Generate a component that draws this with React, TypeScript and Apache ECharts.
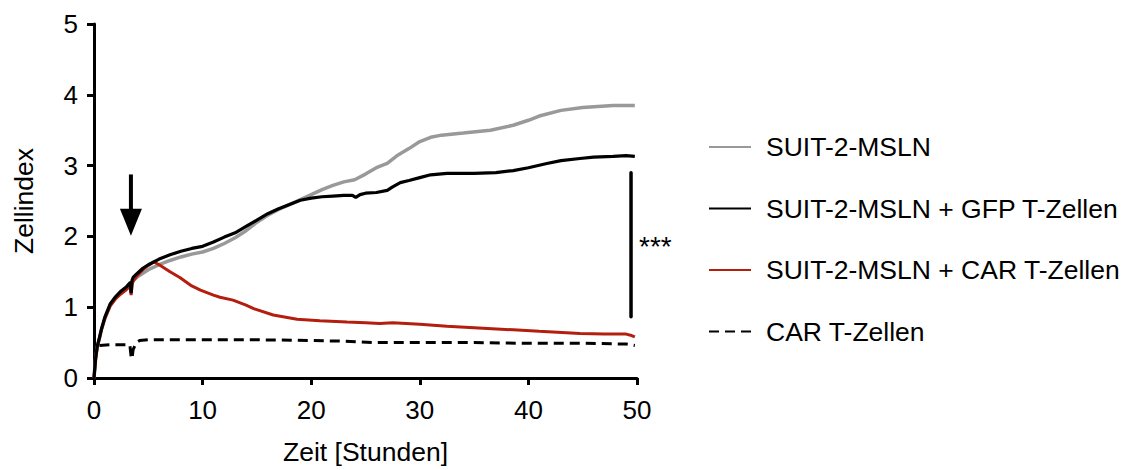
import React, { useEffect, useRef } from "react";
import * as echarts from "echarts";

const FONT = "'Liberation Sans', Arial, sans-serif";

const xTicks = [0, 10, 20, 30, 40, 50];
const yTicks = [0, 1, 2, 3, 4, 5];

const seriesNames = [
  "SUIT-2-MSLN",
  "SUIT-2-MSLN + GFP T-Zellen",
  "SUIT-2-MSLN + CAR T-Zellen",
  "CAR T-Zellen",
];

// SUIT-2-MSLN (grey)
const greyT = [0, 0.15, 0.3, 0.5, 0.7, 1, 1.5, 2, 2.5, 3, 3.35, 3.42, 3.5, 3.6, 4, 5, 6, 7, 8, 9, 10, 11, 12, 13, 14, 15, 16, 17, 18, 19, 20, 21, 22, 23, 24, 25, 26, 27, 28, 29, 30, 31, 32, 34, 36.5, 38.6, 40, 41, 43, 45, 47.8, 49.8];
const greyV = [0, 0.27, 0.44, 0.56, 0.69, 0.84, 1.03, 1.13, 1.21, 1.27, 1.32, 1.2, 1.33, 1.37, 1.43, 1.53, 1.6, 1.66, 1.71, 1.75, 1.78, 1.83, 1.9, 1.98, 2.08, 2.2, 2.3, 2.38, 2.45, 2.52, 2.59, 2.66, 2.72, 2.77, 2.8, 2.88, 2.97, 3.03, 3.15, 3.24, 3.34, 3.4, 3.43, 3.46, 3.5, 3.57, 3.64, 3.7, 3.78, 3.82, 3.85, 3.85];

// SUIT-2-MSLN + GFP T-Zellen (black)
const gfpT = [0, 0.15, 0.3, 0.5, 0.7, 1, 1.5, 2, 2.5, 3, 3.35, 3.42, 3.5, 3.6, 4, 4.5, 5, 6, 7, 8, 9, 10, 11, 12, 13, 14, 15, 16, 17, 18, 19, 20, 21, 22, 23, 23.8, 24.1, 24.5, 25, 26, 27, 27.5, 28.2, 29, 30, 31, 32.5, 35, 37, 38.6, 40, 41.7, 43, 44.75, 46, 47.8, 49, 49.8];
const gfpV = [0, 0.28, 0.45, 0.57, 0.7, 0.86, 1.05, 1.15, 1.23, 1.29, 1.35, 1.2, 1.38, 1.42, 1.48, 1.55, 1.6, 1.68, 1.74, 1.79, 1.83, 1.86, 1.92, 1.99, 2.05, 2.14, 2.23, 2.32, 2.39, 2.45, 2.51, 2.54, 2.56, 2.57, 2.58, 2.58, 2.55, 2.59, 2.61, 2.62, 2.65, 2.7, 2.76, 2.79, 2.83, 2.87, 2.89, 2.89, 2.9, 2.93, 2.97, 3.03, 3.07, 3.1, 3.12, 3.13, 3.14, 3.13];

// SUIT-2-MSLN + CAR T-Zellen (red)
const carT = [0, 0.15, 0.3, 0.5, 0.7, 1, 1.5, 2, 2.5, 3, 3.35, 3.42, 3.5, 3.6, 4, 4.5, 5, 5.5, 6, 7, 7.9, 9, 9.8, 11, 11.6, 12.8, 14, 14.7, 16.5, 18.7, 20.8, 23.3, 25, 26.3, 27.5, 30, 32.5, 35, 38.6, 41, 44.75, 47, 49, 49.5, 49.8];
const carV = [0, 0.27, 0.44, 0.56, 0.69, 0.84, 1.02, 1.12, 1.19, 1.25, 1.3, 1.17, 1.33, 1.37, 1.45, 1.53, 1.59, 1.64, 1.6, 1.5, 1.42, 1.3, 1.24, 1.17, 1.14, 1.1, 1.03, 0.98, 0.89, 0.83, 0.81, 0.79, 0.78, 0.77, 0.78, 0.76, 0.73, 0.71, 0.68, 0.66, 0.63, 0.62, 0.62, 0.6, 0.58];

// CAR T-Zellen only (dashed)
const tcellT = [0.5, 1.5, 2.5, 3.3, 3.42, 3.5, 3.6, 3.9, 4.2, 5, 8, 12, 15, 20, 23, 26, 30, 35, 40, 45, 49, 49.8];
const tcellV = [0.46, 0.47, 0.47, 0.47, 0.3, 0.27, 0.4, 0.5, 0.53, 0.54, 0.54, 0.54, 0.54, 0.53, 0.52, 0.5, 0.5, 0.5, 0.49, 0.49, 0.48, 0.46];

// annotations (data coordinates)
const arrowX = 3.4;
const arrowTop = 2.875;
const arrowHeadBase = 2.39;
const arrowTip = 2.01;
const sigX = 49.45;
const sigTop = 2.9;
const sigBottom = 0.865;
const sigLabel = "***";

const zip = (t: number[], v: number[]) => t.map((x, i) => [x, v[i]]);

export default function App() {
  const ref = useRef<HTMLDivElement>(null);

  useEffect(() => {
    document.body.style.margin = "0";
    if (!ref.current) return;
    const chart = echarts.init(ref.current, null, { renderer: "svg" });

    const axisCommon = {
      axisLine: { show: true, lineStyle: { color: "#000", width: 3 } },
      axisTick: { show: true, inside: false, length: 7, lineStyle: { color: "#000", width: 3 } },
      splitLine: { show: false },
      nameTextStyle: { color: "#000", fontSize: 26.5, fontFamily: FONT },
    };

    chart.setOption({
      animation: false,
      backgroundColor: "#fff",
      textStyle: { fontFamily: FONT },
      grid: { left: 94, right: 489, top: 24, bottom: 86, containLabel: false },
      xAxis: {
        type: "value",
        min: xTicks[0],
        max: xTicks[xTicks.length - 1],
        interval: 10,
        name: "Zeit [Stunden]",
        nameLocation: "middle",
        nameGap: 60,
        ...axisCommon,
        axisLabel: { color: "#000", fontSize: 26, fontFamily: FONT, margin: 19 },
      },
      yAxis: {
        type: "value",
        min: yTicks[0],
        max: yTicks[yTicks.length - 1],
        interval: 1,
        name: "Zellindex",
        nameLocation: "middle",
        nameRotate: 90,
        nameGap: 57,
        ...axisCommon,
        axisLabel: { color: "#000", fontSize: 26, fontFamily: FONT, margin: 16 },
      },
      legend: {
        orient: "vertical",
        left: 703,
        top: 127,
        itemWidth: 42,
        itemHeight: 14,
        itemGap: 31.5,
        data: seriesNames,
        itemStyle: { opacity: 0 },
        textStyle: { color: "#000", fontSize: 26.5, fontFamily: FONT, lineHeight: 30, padding: [0, 0, 0, 10] },
      },
      series: [
        {
          name: seriesNames[0],
          type: "line",
          symbol: "none",
          data: zip(greyT, greyV),
          lineStyle: { color: "#999999", width: 3.5 },
          itemStyle: { color: "#999999" },
          z: 2,
        },
        {
          name: seriesNames[2],
          type: "line",
          symbol: "none",
          data: zip(carT, carV),
          lineStyle: { color: "#b31e0f", width: 3 },
          itemStyle: { color: "#b31e0f" },
          z: 3,
        },
        {
          name: seriesNames[1],
          type: "line",
          symbol: "none",
          data: zip(gfpT, gfpV),
          lineStyle: { color: "#000000", width: 3.2 },
          itemStyle: { color: "#000000" },
          z: 4,
        },
        {
          name: seriesNames[3],
          type: "line",
          symbol: "none",
          data: zip(tcellT, tcellV),
          lineStyle: { color: "#000000", width: 3, type: [10, 6] },
          itemStyle: { color: "#000000" },
          z: 5,
        },
      ],
    });

    const px = (x: number, y: number) => chart.convertToPixel({ gridIndex: 0 }, [x, y]) as number[];
    const aTop = px(arrowX, arrowTop);
    const aBase = px(arrowX, arrowHeadBase);
    const aTip = px(arrowX, arrowTip);
    const sTop = px(sigX, sigTop);
    const sBot = px(sigX, sigBottom);
    const sMid = px(sigX, (sigTop + sigBottom) / 2);

    chart.setOption({
      graphic: [
        {
          type: "line",
          shape: { x1: aTop[0], y1: aTop[1], x2: aBase[0], y2: aBase[1] + 2 },
          style: { stroke: "#000", lineWidth: 4 },
          z: 10,
        },
        {
          type: "polygon",
          shape: { points: [[aBase[0] - 11, aBase[1]], [aBase[0] + 11, aBase[1]], [aTip[0], aTip[1]]] },
          style: { fill: "#000" },
          z: 10,
        },
        {
          type: "line",
          shape: { x1: sTop[0], y1: sTop[1], x2: sBot[0], y2: sBot[1] },
          style: { stroke: "#000", lineWidth: 3.5, lineCap: "round" },
          z: 10,
        },
        {
          type: "text",
          x: sMid[0] + 8,
          y: sMid[1] + 2,
          style: { text: sigLabel, fill: "#000", fontSize: 28, fontFamily: FONT, textAlign: "left", textVerticalAlign: "middle" },
          z: 10,
        },
      ],
    });

    return () => chart.dispose();
  }, []);

  return <div ref={ref} style={{ width: 1126, height: 470 }} />;
}
